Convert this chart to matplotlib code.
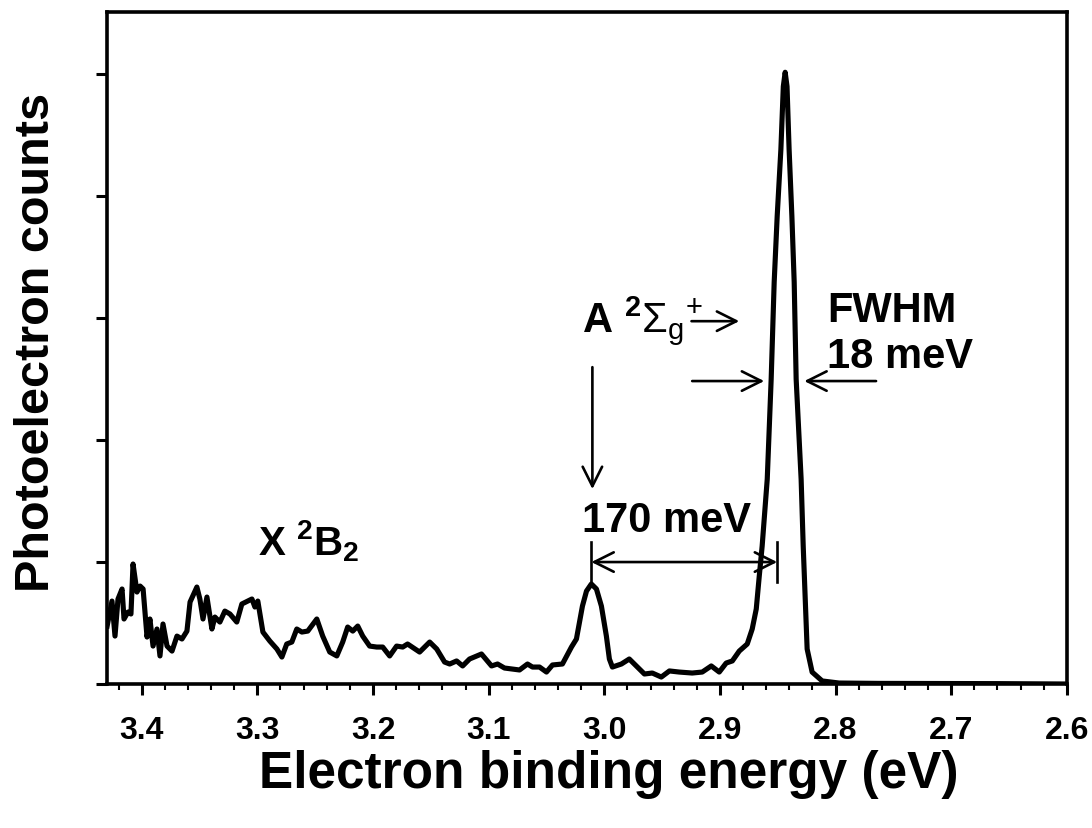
import matplotlib
matplotlib.use("Agg")
import matplotlib.pyplot as plt
from matplotlib.ticker import MultipleLocator, FormatStrFormatter, NullFormatter

plt.rcParams['font.family'] = ['Liberation Sans', 'DejaVu Sans']
plt.rcParams['mathtext.fontset'] = 'custom'
plt.rcParams['mathtext.rm'] = 'Liberation Sans'
plt.rcParams['mathtext.it'] = 'Liberation Sans'
plt.rcParams['mathtext.bf'] = 'Liberation Sans:bold'

# Electron binding energy (eV) and photoelectron counts (arb. units)
energy = [3.4299, 3.4257, 3.4231, 3.4205, 3.4170, 3.4153, 3.4119, 3.4093, 3.4075, 3.4041,
          3.4014, 3.3988, 3.3954, 3.3929, 3.3902, 3.3868, 3.3842, 3.3816, 3.3781, 3.3738,
          3.3695, 3.3652, 3.3609, 3.3582, 3.3523, 3.3497, 3.3470, 3.3436, 3.3393, 3.3367,
          3.3324, 3.3281, 3.3237, 3.3178, 3.3134, 3.3082, 3.3047, 3.3021, 3.2996, 3.2952,
          3.2892, 3.2831, 3.2788, 3.2746, 3.2702, 3.2659, 3.2615, 3.2564, 3.2486, 3.2435,
          3.2374, 3.2313, 3.2262, 3.2219, 3.2175, 3.2132, 3.2089, 3.2029, 3.1968, 3.1916,
          3.1856, 3.1796, 3.1743, 3.1701, 3.1597, 3.1510, 3.1449, 3.1381, 3.1337, 3.1277,
          3.1225, 3.1165, 3.1062, 3.0975, 3.0923, 3.0863, 3.0733, 3.0664, 3.0621, 3.0560,
          3.0500, 3.0448, 3.0362, 3.0284, 3.0241, 3.0189, 3.0154, 3.0112, 3.0068, 3.0025,
          2.9982, 2.9956, 2.9930, 2.9852, 2.9784, 2.9723, 2.9653, 2.9585, 2.9507, 2.9437,
          2.9352, 2.9240, 2.9153, 2.9075, 2.9006, 2.8946, 2.8893, 2.8833, 2.8764, 2.8721,
          2.8686, 2.8660, 2.8635, 2.8591, 2.8557, 2.8531, 2.8505, 2.8473, 2.8452, 2.8436,
          2.8420, 2.8402, 2.8378, 2.8358, 2.8341, 2.8298, 2.8280, 2.8263, 2.8246, 2.8203,
          2.8116, 2.7970, 2.7624, 2.6588, 2.60]
counts = [0.475, 0.680, 0.393, 0.697, 0.779, 0.533, 0.590, 0.574, 0.984, 0.754,
          0.803, 0.779, 0.385, 0.533, 0.311, 0.451, 0.230, 0.492, 0.311, 0.270,
          0.393, 0.369, 0.434, 0.672, 0.795, 0.697, 0.533, 0.713, 0.451, 0.549,
          0.508, 0.598, 0.574, 0.508, 0.656, 0.680, 0.697, 0.631, 0.680, 0.426,
          0.352, 0.287, 0.221, 0.328, 0.344, 0.451, 0.426, 0.434, 0.533, 0.393,
          0.262, 0.230, 0.344, 0.467, 0.434, 0.475, 0.393, 0.311, 0.303, 0.303,
          0.230, 0.311, 0.303, 0.328, 0.262, 0.344, 0.287, 0.180, 0.164, 0.189,
          0.148, 0.205, 0.246, 0.148, 0.164, 0.131, 0.115, 0.164, 0.139, 0.139,
          0.098, 0.156, 0.164, 0.303, 0.369, 0.639, 0.762, 0.820, 0.779, 0.639,
          0.393, 0.205, 0.139, 0.164, 0.205, 0.148, 0.082, 0.090, 0.057, 0.107,
          0.098, 0.090, 0.098, 0.148, 0.098, 0.172, 0.189, 0.270, 0.328, 0.451,
          0.615, 0.885, 1.131, 1.680, 2.500, 3.295, 3.836, 4.385, 4.900, 5.016,
          4.900, 4.385, 3.836, 3.295, 2.500, 1.680, 1.131, 0.697, 0.287, 0.098,
          0.025, 0.008, 0.005, 0.003, 0.0]

xticks = [3.4, 3.3, 3.2, 3.1, 3.0, 2.9, 2.8, 2.7, 2.6]
yticks = [0, 1, 2, 3, 4, 5]

fig = plt.figure(figsize=(10.92, 8.29), dpi=100)
ax = fig.add_axes([0.098, 0.1737, 0.879, 0.8106])

ax.plot(energy, counts, color='black', lw=3.7, solid_joinstyle='round')

ax.set_xlim(3.43, 2.6)
ax.set_ylim(0, 5.51)
ax.set_xticks(xticks)
ax.xaxis.set_major_formatter(FormatStrFormatter('%.1f'))
ax.xaxis.set_minor_locator(MultipleLocator(0.02))
ax.set_yticks(yticks)
ax.yaxis.set_major_formatter(NullFormatter())
ax.tick_params(axis='both', which='major', direction='out', length=8, width=2.2,
               labelsize=23, pad=14.5, top=False, right=False)
ax.tick_params(axis='x', which='minor', direction='out', length=4, width=1.5, top=False)
for lab in ax.get_xticklabels():
    lab.set_fontweight('bold')
for sp in ax.spines.values():
    sp.set_linewidth(2.6)

ax.set_xlabel('Electron binding energy (eV)', fontsize=37, fontweight='bold')
ax.xaxis.set_label_coords(0.523, -0.097)
ax.set_ylabel('Photoelectron counts', fontsize=35, fontweight='bold')
ax.yaxis.set_label_coords(-0.05, 0.51)

fs = 30
ax.text(3.2996, 1.066, r'X $^{\mathbf{2}}\mathbf{B}_{\mathbf{2}}$', fontsize=29,
        fontweight='bold', ha='left', va='baseline')
ax.text(3.0189, 2.893, r'A $^{\mathbf{2}}\Sigma_{\mathrm{g}}{}^{+}$', fontsize=fs,
        fontweight='bold', ha='left', va='baseline')
ax.text(2.8074, 2.975, 'FWHM', fontsize=fs, fontweight='bold', ha='left', va='baseline')
ax.text(2.8074, 2.598, '18 meV', fontsize=fs, fontweight='bold', ha='left', va='baseline')
ax.text(3.0197, 1.254, '170 meV', fontsize=fs, fontweight='bold', ha='left', va='baseline')

aprops = dict(arrowstyle='->,head_length=0.7,head_width=0.35', color='black', lw=1.9,
              shrinkA=0, shrinkB=0, mutation_scale=20)
ax.annotate('', xy=(2.8833, 2.975), xytext=(2.9246, 2.975), arrowprops=aprops)
ax.annotate('', xy=(2.8617, 2.484), xytext=(2.9240, 2.484), arrowprops=aprops)
ax.annotate('', xy=(2.8271, 2.484), xytext=(2.7650, 2.484), arrowprops=aprops)
ax.annotate('', xy=(3.0103, 1.598), xytext=(3.0103, 2.598), arrowprops=aprops)
ax.annotate('', xy=(2.8505, 1.0), xytext=(3.0112, 1.0),
            arrowprops=dict(arrowstyle='<->,head_length=0.7,head_width=0.35', color='black',
                            lw=1.9, shrinkA=0, shrinkB=0, mutation_scale=20))
ax.plot([3.0112, 3.0112], [1.164, 0.83], color='black', lw=1.9)
ax.plot([2.8505, 2.8505], [1.164, 0.836], color='black', lw=1.9)

fig.savefig('out.png', dpi=100)
